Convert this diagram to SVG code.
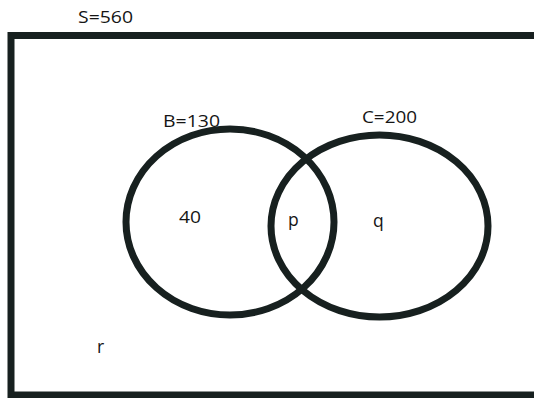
<svg xmlns="http://www.w3.org/2000/svg" width="534" height="398" viewBox="0 0 534 398">
  <style>
    .line { fill: none; stroke: #17201f; stroke-width: 7; }
    .label { font-family: "Open Sans", "Liberation Sans", sans-serif; font-size: 16.5px; fill: #151515; }
    .var { font-size: 17.5px; }
  </style>
  <rect width="534" height="398" fill="#ffffff"/>

  <!-- universal set S -->
  <g id="universe">
    <rect class="line" x="11" y="35.5" width="600" height="359.5"/>
    <text class="label" x="78" y="23" textLength="55" lengthAdjust="spacingAndGlyphs">S=560</text>
    <text class="label var" x="97" y="353">r</text>
  </g>

  <!-- set B -->
  <g id="set-b">
    <text class="label" x="163" y="127" textLength="57" lengthAdjust="spacingAndGlyphs">B=130</text>
    <ellipse class="line" cx="230" cy="222" rx="104" ry="93"/>
    <text class="label" x="179" y="223" textLength="22" lengthAdjust="spacingAndGlyphs">40</text>
  </g>

  <!-- set C -->
  <g id="set-c">
    <text class="label" x="362" y="123" textLength="55" lengthAdjust="spacingAndGlyphs">C=200</text>
    <ellipse class="line" cx="379.5" cy="226" rx="108.5" ry="91"/>
    <text class="label var" x="373" y="227">q</text>
  </g>

  <!-- intersection B and C -->
  <g id="intersection">
    <text class="label var" x="288" y="226">p</text>
  </g>
</svg>
